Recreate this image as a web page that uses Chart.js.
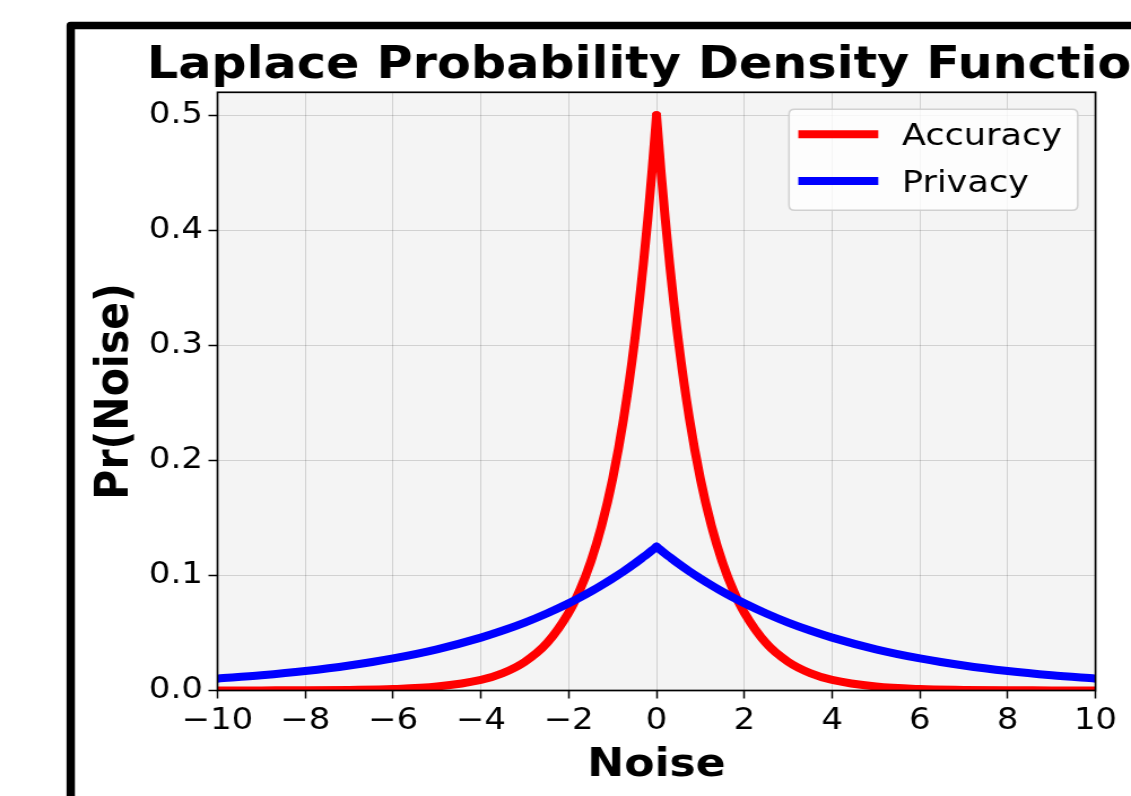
<!DOCTYPE html>
<html>
<head>
<meta charset="utf-8">
<script src="https://cdn.jsdelivr.net/npm/chart.js@4.4.1/dist/chart.umd.min.js"></script>
<style>
  html, body { margin: 0; padding: 0; background: #ffffff; overflow: hidden; }
  canvas { display: block; }
</style>
</head>
<body>
<canvas id="c" width="1001" height="796" style="width:1131px;height:796px;"></canvas>
<script>
// ---------------- data ----------------
const titleText = 'Laplace Probability Density Function';
const xLabel = 'Noise';
const yLabel = 'Pr(Noise)';
const seriesNames = ['Accuracy', 'Privacy'];
const seriesColors = ['#ff0000', '#0000ff'];

const noiseX = [-10, -9, -8, -7, -6, -5, -4, -3.5, -3, -2.5, -2, -1.75, -1.5, -1.25, -1, -0.75, -0.5, -0.3, -0.2, -0.1,
  0,
  0.1, 0.2, 0.3, 0.5, 0.75, 1, 1.25, 1.5, 1.75, 2, 2.5, 3, 3.5, 4, 5, 6, 7, 8, 9, 10];

const accuracyY = [0.0000, 0.0001, 0.0002, 0.0005, 0.0012, 0.0034, 0.0092, 0.0151, 0.0249, 0.0410, 0.0677, 0.0869, 0.1116, 0.1433, 0.1839, 0.2362, 0.3033, 0.3704, 0.4094, 0.4524,
  0.5000,
  0.4524, 0.4094, 0.3704, 0.3033, 0.2362, 0.1839, 0.1433, 0.1116, 0.0869, 0.0677, 0.0410, 0.0249, 0.0151, 0.0092, 0.0034, 0.0012, 0.0005, 0.0002, 0.0001, 0.0000];

const privacyY = [0.0103, 0.0132, 0.0169, 0.0217, 0.0279, 0.0358, 0.0460, 0.0521, 0.0590, 0.0669, 0.0758, 0.0807, 0.0859, 0.0915, 0.0974, 0.1036, 0.1103, 0.1160, 0.1189, 0.1219,
  0.1250,
  0.1219, 0.1189, 0.1160, 0.1103, 0.1036, 0.0974, 0.0915, 0.0859, 0.0807, 0.0758, 0.0669, 0.0590, 0.0521, 0.0460, 0.0358, 0.0279, 0.0217, 0.0169, 0.0132, 0.0103];

const xTicks = [-10, -8, -6, -4, -2, 0, 2, 4, 6, 8, 10];
const yTicks = [0.0, 0.1, 0.2, 0.3, 0.4, 0.5];
const xRange = [-10, 10];
const yRange = [0, 0.52];

// ---------------- layout / style ----------------
const W = 1001, H = 796;
const S = 1131 / W;               // horizontal stretch of the picture
const px = v => v / S;            // picture x -> canvas x
const FONT = '"DejaVu Sans", "Liberation Sans", sans-serif';
const plotL = px(217.5), plotR = px(1095.5), plotT = 92.3, plotB = 690.5;

const peakIndex = noiseX.indexOf(0);
const toPoints = (ys, from, to) => noiseX.slice(from, to).map((x, i) => ({ x: x, y: ys[from + i] }));

// each curve is drawn as two monotone halves so the peak stays sharp
function halves(name, color, ys, order) {
  const base = { borderColor: color, backgroundColor: color, borderWidth: 8, pointRadius: 0,
    cubicInterpolationMode: 'monotone', borderJoinStyle: 'round', borderCapStyle: 'round', clip: 0, order: order };
  return [
    Object.assign({ label: name, data: toPoints(ys, 0, peakIndex + 1) }, base),
    Object.assign({ label: name, data: toPoints(ys, peakIndex, noiseX.length) }, base)
  ];
}

const decor = {
  id: 'decor',
  beforeDraw(chart) {
    const ctx = chart.ctx, a = chart.chartArea;
    ctx.save();
    ctx.fillStyle = '#ffffff';
    ctx.fillRect(0, 0, W, H);
    ctx.fillStyle = '#f4f4f4';
    ctx.fillRect(a.left, a.top, a.right - a.left, a.bottom - a.top);
    ctx.restore();
  },
  afterDraw(chart) {
    const ctx = chart.ctx, a = chart.chartArea;
    ctx.save();
    // axes frame
    ctx.strokeStyle = '#000';
    ctx.lineWidth = 1.7;
    ctx.strokeRect(a.left, a.top, a.right - a.left, a.bottom - a.top);

    // title
    ctx.fillStyle = '#000';
    ctx.font = 'bold 43.6px ' + FONT;
    ctx.textAlign = 'center';
    ctx.textBaseline = 'alphabetic';
    ctx.fillText(titleText, (a.left + a.right) / 2, 78.3);

    // x axis title
    ctx.font = 'bold 39px ' + FONT;
    ctx.fillText(xLabel, (a.left + a.right) / 2, 776);

    // y axis title
    ctx.save();
    ctx.font = 'bold 41px ' + FONT;
    ctx.translate(px(127.5), (a.top + a.bottom) / 2);
    ctx.rotate(-Math.PI / 2);
    ctx.textAlign = 'center';
    ctx.fillText(yLabel, 0, 0);
    ctx.restore();

    // legend
    const lx0 = px(789), lx1 = px(1077.7), ly0 = 109.3, ly1 = 210.3, r = 5;
    ctx.beginPath();
    ctx.moveTo(lx0 + r, ly0);
    ctx.lineTo(lx1 - r, ly0);
    ctx.quadraticCurveTo(lx1, ly0, lx1, ly0 + r);
    ctx.lineTo(lx1, ly1 - r);
    ctx.quadraticCurveTo(lx1, ly1, lx1 - r, ly1);
    ctx.lineTo(lx0 + r, ly1);
    ctx.quadraticCurveTo(lx0, ly1, lx0, ly1 - r);
    ctx.lineTo(lx0, ly0 + r);
    ctx.quadraticCurveTo(lx0, ly0, lx0 + r, ly0);
    ctx.closePath();
    ctx.fillStyle = 'rgba(255,255,255,0.8)';
    ctx.fill();
    ctx.strokeStyle = 'rgba(204,204,204,0.9)';
    ctx.lineWidth = 1.5;
    ctx.stroke();

    const rows = [134.3, 181];
    const bases = [145, 191.7];
    seriesNames.forEach((name, i) => {
      ctx.beginPath();
      ctx.moveTo(px(798.3), rows[i]);
      ctx.lineTo(px(878.3), rows[i]);
      ctx.strokeStyle = seriesColors[i];
      ctx.lineWidth = 8;
      ctx.lineCap = 'butt';
      ctx.stroke();
      ctx.fillStyle = '#000';
      ctx.font = '31px ' + FONT;
      ctx.textAlign = 'left';
      ctx.textBaseline = 'alphabetic';
      ctx.fillText(name, px(902), bases[i]);
    });

    // outer figure border (cropped)
    ctx.beginPath();
    ctx.moveTo(px(70.7), H + 20);
    ctx.lineTo(px(70.7), 25.5);
    ctx.lineTo(W + 20, 25.5);
    ctx.strokeStyle = '#000';
    ctx.lineWidth = 7.4;
    ctx.lineJoin = 'round';
    ctx.stroke();
    ctx.restore();
  }
};

const minusFmt = v => {
  const s = (Math.abs(v) < 1e-9 ? 0 : v).toString();
  return s.replace('-', '\u2212');
};

new Chart(document.getElementById('c'), {
  type: 'line',
  data: {
    datasets: [].concat(
      halves(seriesNames[0], seriesColors[0], accuracyY, 2),
      halves(seriesNames[1], seriesColors[1], privacyY, 1)
    )
  },
  options: {
    responsive: false,
    animation: false,
    devicePixelRatio: 1,
    layout: { padding: { left: 0, top: plotT, right: W - plotR, bottom: H - plotB - 60 } },
    plugins: { legend: { display: false }, title: { display: false }, tooltip: { enabled: false } },
    scales: {
      x: {
        type: 'linear', min: xRange[0], max: xRange[1],
        afterFit(scale) { scale.height = 60; },
        afterBuildTicks(scale) { scale.ticks = xTicks.map(v => ({ value: v })); },
        ticks: { font: { family: FONT, size: 30 }, color: '#000', padding: 5, maxRotation: 0, autoSkip: false,
          callback: v => minusFmt(v) },
        grid: { color: 'rgba(0,0,0,0.14)', lineWidth: 1, drawTicks: true, tickLength: 8, tickColor: '#000', tickWidth: 1.5 },
        border: { display: false }
      },
      y: {
        type: 'linear', min: yRange[0], max: yRange[1],
        afterFit(scale) { scale.width = plotL; },
        afterBuildTicks(scale) { scale.ticks = yTicks.map(v => ({ value: v })); },
        ticks: { font: { family: FONT, size: 30 }, color: '#000', padding: 5, autoSkip: false,
          callback: v => v.toFixed(1) },
        grid: { color: 'rgba(0,0,0,0.14)', lineWidth: 1, drawTicks: true, tickLength: 8, tickColor: '#000', tickWidth: 1.5 },
        border: { display: false }
      }
    }
  },
  plugins: [decor]
});
</script>
</body>
</html>
